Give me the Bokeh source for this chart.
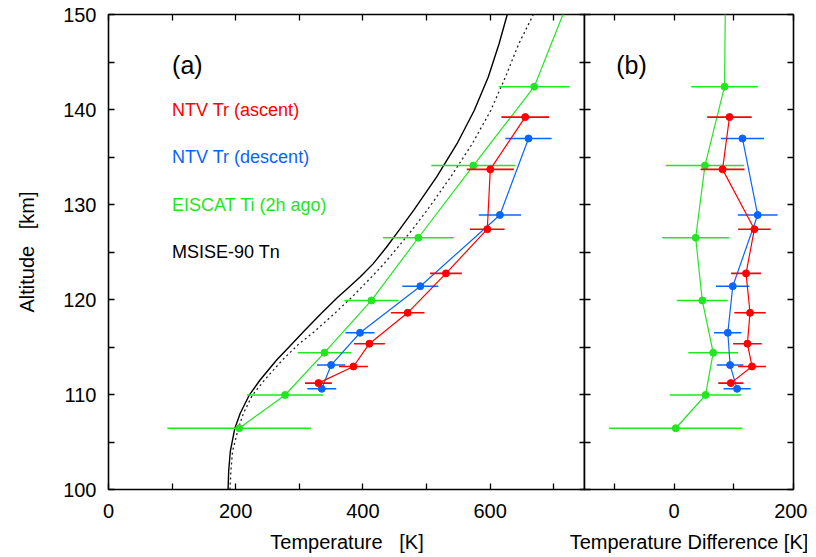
import numpy as np
from bokeh.plotting import figure
from bokeh.models import FixedTicker, LinearAxis, Label, Range1d
from bokeh.layouts import row
from bokeh.embed import file_html
from bokeh.resources import INLINE

FONT = "Liberation Sans"
RED = "#ff0000"
BLUE = "#0a64ff"
GREEN = "#22e622"

# ---------------- data ----------------
green_alt = [106.45, 109.95, 114.4, 119.9, 126.5, 134.1, 142.4, 151.6]
green_T = [205.5, 277.7, 339.5, 413.4, 487.2, 573.6, 669.4, 724.0]
green_T_err = [113.0, 60.0, 42.0, 42.7, 55.8, 66.0, 55.8, 60.0]
green_dT = [2.8, 52.8, 65.5, 47.2, 36.2, 51.7, 84.5, 86.0]
green_dT_err = [111.7, 59.7, 41.7, 42.7, 56.0, 65.5, 55.8, 60.0]

red_alt = [111.2, 112.95, 115.35, 118.6, 122.75, 127.4, 133.7, 139.2]
red_T = [330.1, 385.1, 410.2, 470.4, 530.6, 595.6, 600.3, 655.2]
red_T_err = [21.2, 22.8, 24.3, 26.4, 25.0, 27.2, 37.0, 37.5]
red_dT = [95.0, 130.5, 122.8, 127.2, 120.5, 134.5, 81.2, 92.8]
red_dT_err = [21.0, 23.3, 24.0, 26.4, 25.0, 27.2, 36.7, 37.2]

blue_alt = [110.6, 113.1, 116.5, 121.4, 128.9, 136.95]
blue_T = [335.3, 350.0, 395.5, 490.3, 615.4, 660.4]
blue_T_err = [22.8, 22.2, 22.8, 28.3, 33.2, 36.4]
blue_dT = [105.5, 93.8, 90.0, 98.3, 140.0, 114.5]
blue_dT_err = [22.8, 22.3, 23.0, 28.0, 33.3, 36.2]

msis_alt = [100, 102, 104, 106.4, 108, 109.9, 111.5, 113.6, 115.3, 116.7, 118.5, 120.2,
            121.3, 122.4, 123.75, 125.5, 127.3, 129.4, 132.9, 136.4, 139.9, 143.4, 146.9, 150]
msis_T = [188, 189, 191.5, 198.5, 207, 221, 238, 264, 288, 308, 334, 360,
          378, 396, 416, 437, 457, 480, 516, 548, 575, 597, 614, 627]
msis2_T = [191, 192.5, 195, 204, 212, 226, 245, 273, 299, 325, 355, 382,
           398, 414, 433, 455, 477, 501, 538, 572, 601, 624, 645, 668]

legend_labels = ["NTV Tr (ascent)", "NTV Tr (descent)", "EISCAT Ti (2h ago)", "MSISE-90 Tn"]
legend_colors = [RED, BLUE, GREEN, "black"]
legend_alt = [140, 135, 130, 125]

alt_ticks = [100, 110, 120, 130, 140, 150]
alt_minor = [105, 115, 125, 135, 145]
temp_ticks = [0, 200, 400, 600]
temp_minor = [100, 300, 500, 700]
diff_ticks = [0, 200]
diff_minor = [-100, 100]


def style_axis(ax, ticks, minor, show_labels):
    ax.ticker = FixedTicker(ticks=ticks, minor_ticks=minor)
    ax.axis_line_color = None
    ax.major_tick_in = 6
    ax.major_tick_out = 0
    ax.minor_tick_in = 6
    ax.minor_tick_out = 0
    ax.major_tick_line_color = "black"
    ax.minor_tick_line_color = "black"
    ax.major_tick_line_width = 1.3
    ax.minor_tick_line_width = 1.3
    ax.major_label_text_font = FONT
    ax.major_label_text_color = "black"
    ax.axis_label_text_font = FONT
    ax.axis_label_text_font_style = "normal"
    ax.axis_label_text_color = "black"
    ax.axis_label_text_font_size = "20px"
    if show_labels:
        ax.major_label_text_font_size = "20px"
    else:
        ax.major_label_overrides = {t: "" for t in ticks}
        ax.major_label_text_font_size = "0px"
        ax.major_label_standoff = 0
        ax.axis_label_standoff = 0


def make_fig(xr, frame_w, xticks, xminor, ylabel, xlabel, bl, br):
    p = figure(x_range=Range1d(*xr), y_range=Range1d(100, 150),
               frame_width=frame_w, frame_height=475,
               output_backend="svg", toolbar_location=None,
               x_axis_location=None, y_axis_location=None,
               min_border_left=bl, min_border_right=br,
               min_border_top=14, min_border_bottom=0)
    p.outline_line_color = "black"
    p.outline_line_width = 1.6
    p.background_fill_color = "white"
    p.xgrid.grid_line_color = None
    p.ygrid.grid_line_color = None
    p.grid.visible = False
    below = LinearAxis()
    style_axis(below, xticks, xminor, True)
    below.major_label_standoff = 14
    below.axis_label = xlabel
    below.axis_label_standoff = 10
    above = LinearAxis()
    style_axis(above, xticks, xminor, False)
    left = LinearAxis()
    style_axis(left, alt_ticks, alt_minor, ylabel is not None)
    if ylabel is not None:
        left.major_label_standoff = 12
        left.axis_label = ylabel
        left.axis_label_standoff = 22
    right = LinearAxis()
    style_axis(right, alt_ticks, alt_minor, False)
    p.add_layout(below, "below")
    p.add_layout(above, "above")
    p.add_layout(left, "left")
    p.add_layout(right, "right")
    return p


def series(p, xs, errs, alts, color):
    xs = np.array(xs, dtype=float)
    errs = np.array(errs, dtype=float)
    p.segment(x0=xs - errs, y0=alts, x1=xs + errs, y1=alts, line_color=color, line_width=1.6)
    p.line(xs, alts, line_color=color, line_width=1.2)
    p.scatter(xs, alts, size=7, fill_color=color, line_color=color)


# ---------------- panel (a) ----------------
pa = make_fig((0, 750), 477, temp_ticks, temp_minor,
              "Altitude \u00a0 [km]", "Temperature \u00a0 [K]", 108, 0)
pa.border_fill_color = "white"
pa.line(msis_T, msis_alt, line_color="black", line_width=1.4)
pa.line(msis2_T, msis_alt, line_color="#222222", line_width=1.3, line_dash="2 3")
series(pa, green_T, green_T_err, green_alt, GREEN)
series(pa, blue_T, blue_T_err, blue_alt, BLUE)
series(pa, red_T, red_T_err, red_alt, RED)

pa.add_layout(Label(x=100, y=144.7, text="(a)", text_font=FONT, text_font_size="25px",
                    text_color="black", text_baseline="middle", text_align="left"))
for txt, col, a in zip(legend_labels, legend_colors, legend_alt):
    pa.add_layout(Label(x=100, y=a, text=txt, text_font=FONT, text_font_size="18px",
                        text_color=col, text_baseline="middle", text_align="left"))

# ---------------- panel (b) ----------------
pb = make_fig((-150, 200), 209, diff_ticks, diff_minor, None,
              "Temperature Difference [K]", 25, 14)
pb.border_fill_color = None
pb.margin = (0, 0, 0, -26)
series(pb, green_dT, green_dT_err, green_alt, GREEN)
series(pb, blue_dT, blue_dT_err, blue_alt, BLUE)
series(pb, red_dT, red_dT_err, red_alt, RED)
pb.add_layout(Label(x=-97, y=144.7, text="(b)", text_font=FONT, text_font_size="25px",
                    text_color="black", text_baseline="middle", text_align="left"))

layout = row(pa, pb, spacing=0)
open("out.html", "w").write(file_html(layout, INLINE))
